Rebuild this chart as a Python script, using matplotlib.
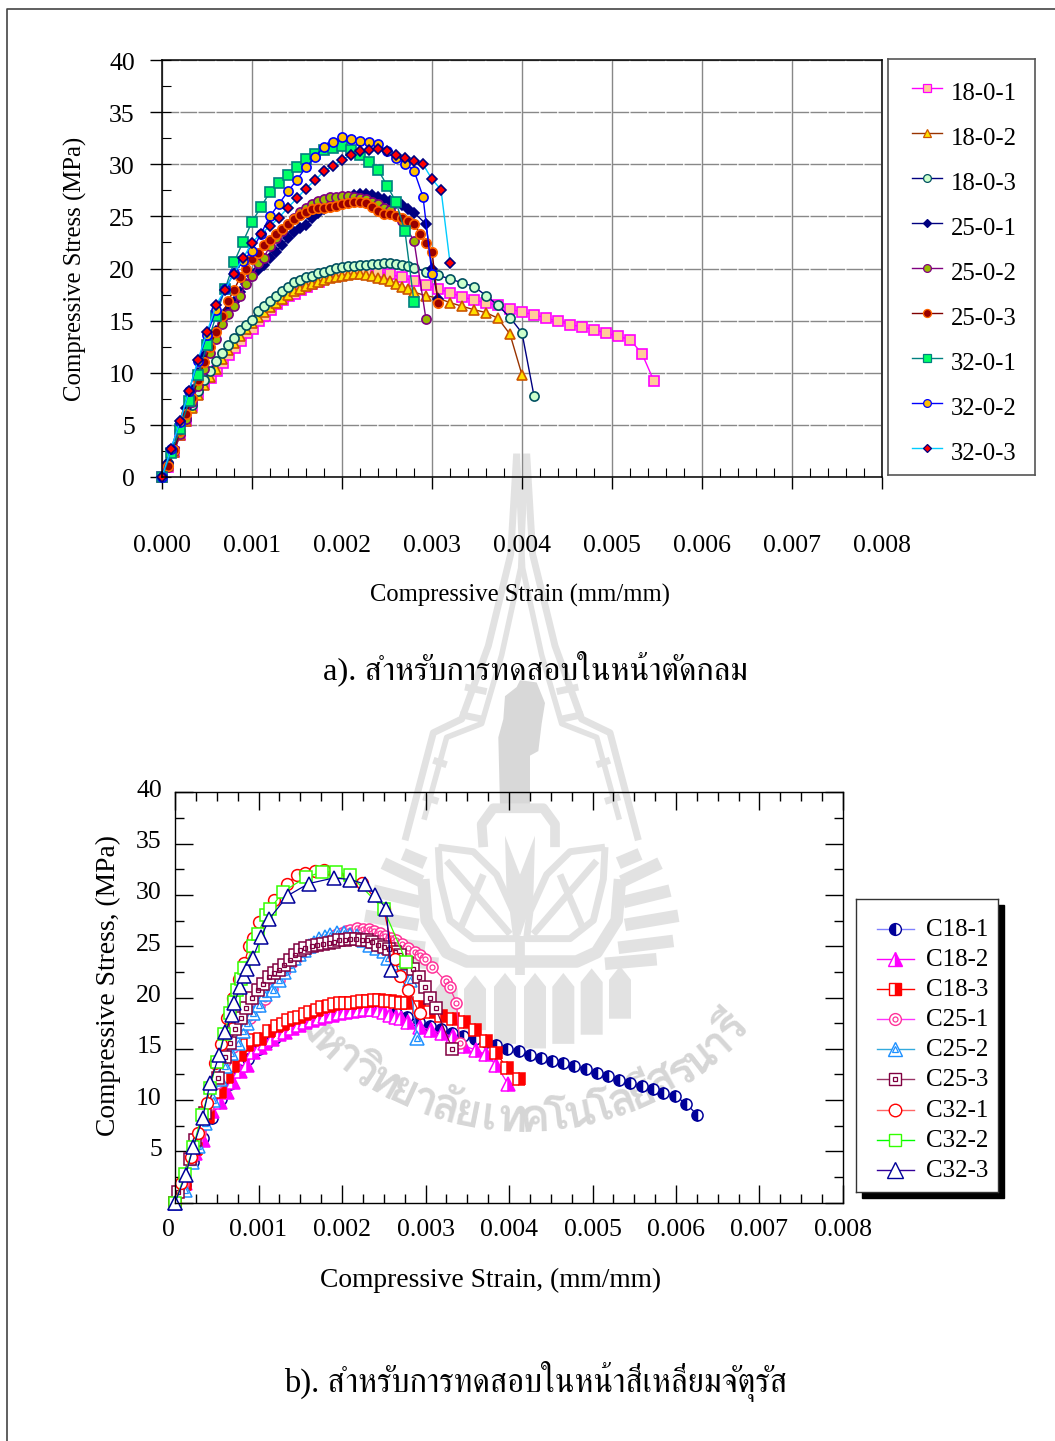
import numpy as np
import matplotlib
matplotlib.use("Agg")
import matplotlib.pyplot as plt
from matplotlib.patches import Polygon, Rectangle
from matplotlib.ticker import MultipleLocator, FixedLocator
from matplotlib.transforms import ScaledTranslation

plt.rcParams["font.family"] = ["Liberation Serif", "FreeSerif", "DejaVu Serif"]

W, H = 1055, 1441

# ---- chart a, strain in 1/1000 mm/mm, stress in MPa
e_18_0_1 = [0, 0.07, 0.13, 0.2, 0.27, 0.33, 0.4, 0.47, 0.54, 0.607, 0.674, 0.741, 0.807, 0.874, 0.94, 1.007, 1.074, 1.141, 1.207, 1.274, 1.34, 1.41, 1.474, 1.54, 1.607, 1.67, 1.74, 1.8, 1.87, 1.94, 2.0, 2.07, 2.13, 2.2, 2.27, 2.4, 2.533, 2.667, 2.8, 2.933, 3.067, 3.2, 3.333, 3.467, 3.6, 3.733, 3.867, 4.0, 4.133, 4.267, 4.4, 4.533, 4.667, 4.8, 4.933, 5.067, 5.2, 5.333, 5.467]
s_18_0_1 = [0, 1.0, 2.4, 4.0, 5.4, 6.8, 8.0, 8.9, 9.5, 10.13, 10.89, 11.66, 12.4, 13.07, 13.77, 14.19, 14.95, 15.46, 16.04, 16.58, 17.0, 17.4, 17.6, 17.9, 18.2, 18.5, 18.75, 19.0, 19.15, 19.3, 19.4, 19.5, 19.55, 19.6, 19.7, 19.71, 19.46, 19.14, 18.81, 18.39, 18.04, 17.69, 17.27, 16.99, 16.7, 16.47, 16.09, 15.83, 15.55, 15.26, 14.94, 14.62, 14.4, 14.14, 13.79, 13.5, 13.18, 11.84, 9.18]

e_18_0_2 = [0, 0.067, 0.133, 0.2, 0.267, 0.333, 0.4, 0.467, 0.533, 0.6, 0.667, 0.733, 0.8, 0.867, 0.933, 1.0, 1.067, 1.133, 1.2, 1.267, 1.333, 1.4, 1.467, 1.533, 1.6, 1.667, 1.733, 1.8, 1.867, 1.933, 2.0, 2.067, 2.133, 2.2, 2.267, 2.333, 2.4, 2.467, 2.533, 2.6, 2.667, 2.733, 2.8, 2.933, 3.067, 3.2, 3.333, 3.467, 3.6, 3.733, 3.867, 4.0]
s_18_0_2 = [0, 1.1, 2.4, 4.0, 5.4, 6.6, 7.9, 8.8, 9.6, 10.4, 11.3, 12.2, 12.9, 13.5, 14.2, 14.8, 15.3, 15.8, 16.3, 16.7, 17.1, 17.5, 17.83, 18.08, 18.34, 18.5, 18.72, 18.9, 19.07, 19.2, 19.3, 19.39, 19.46, 19.46, 19.36, 19.27, 19.1, 18.98, 18.79, 18.53, 18.27, 18.02, 17.72, 17.4, 17.15, 16.73, 16.38, 16.05, 15.77, 15.23, 13.69, 9.79]

e_18_0_3 = [0, 0.067, 0.133, 0.2, 0.267, 0.333, 0.404, 0.467, 0.533, 0.6, 0.667, 0.733, 0.8, 0.867, 0.933, 1.0, 1.067, 1.133, 1.2, 1.267, 1.333, 1.4, 1.467, 1.533, 1.6, 1.667, 1.733, 1.8, 1.867, 1.933, 2.0, 2.067, 2.133, 2.2, 2.267, 2.333, 2.4, 2.467, 2.533, 2.6, 2.667, 2.733, 2.8, 2.933, 3.067, 3.2, 3.333, 3.467, 3.6, 3.733, 3.867, 4.0, 4.133]
s_18_0_3 = [0, 1.3, 2.6, 4.2, 5.6, 6.9, 8.27, 9.3, 10.13, 11.12, 11.88, 12.65, 13.32, 14.12, 14.6, 15.08, 15.94, 16.36, 16.9, 17.38, 17.83, 18.27, 18.66, 18.91, 19.17, 19.3, 19.55, 19.71, 19.87, 20.03, 20.16, 20.22, 20.26, 20.32, 20.35, 20.42, 20.45, 20.48, 20.48, 20.45, 20.38, 20.26, 20.06, 19.71, 19.36, 19.0, 18.63, 18.27, 17.4, 16.47, 15.29, 13.82, 7.8]

e_25_0_1 = [0, 0.067, 0.133, 0.2, 0.267, 0.333, 0.4, 0.467, 0.533, 0.6, 0.667, 0.733, 0.8, 0.867, 0.933, 1.0, 1.067, 1.133, 1.2, 1.267, 1.333, 1.4, 1.467, 1.533, 1.6, 1.667, 1.733, 1.8, 1.867, 1.933, 2.0, 2.067, 2.133, 2.2, 2.267, 2.333, 2.4, 2.467, 2.533, 2.6, 2.667, 2.733, 2.8, 2.933, 3.0, 3.067]
s_25_0_1 = [0, 1.3, 2.8, 4.9, 6.6, 8.3, 10.0, 11.6, 12.9, 14.0, 15.1, 16.0, 16.8, 17.7, 18.5, 19.3, 19.87, 20.35, 20.99, 21.63, 22.24, 22.9, 23.51, 23.9, 24.22, 24.82, 25.37, 25.69, 26.17, 26.45, 26.71, 26.9, 27.06, 27.19, 27.16, 27.03, 26.9, 26.71, 26.52, 26.33, 26.1, 25.75, 25.37, 24.25, 20.0, 17.06]

e_25_0_2 = [0, 0.067, 0.133, 0.2, 0.267, 0.333, 0.4, 0.467, 0.533, 0.6, 0.667, 0.733, 0.8, 0.867, 0.933, 1.0, 1.067, 1.133, 1.2, 1.267, 1.333, 1.4, 1.467, 1.533, 1.6, 1.667, 1.733, 1.8, 1.867, 1.933, 2.0, 2.067, 2.133, 2.2, 2.267, 2.333, 2.4, 2.467, 2.533, 2.667, 2.8, 2.933]
s_25_0_2 = [0, 1.0, 2.5, 4.1, 5.6, 7.2, 8.75, 10.4, 11.9, 13.23, 14.66, 15.62, 16.42, 17.4, 18.47, 19.3, 20.48, 21.05, 22.2, 22.9, 23.61, 24.25, 24.89, 25.43, 25.85, 26.2, 26.45, 26.68, 26.84, 26.9, 26.93, 26.93, 26.9, 26.8, 26.65, 26.42, 26.17, 25.85, 25.62, 24.57, 22.65, 15.14]

e_25_0_3 = [0, 0.07, 0.133, 0.2, 0.267, 0.333, 0.4, 0.47, 0.533, 0.6, 0.667, 0.733, 0.8, 0.867, 0.933, 1.0, 1.067, 1.133, 1.2, 1.267, 1.333, 1.4, 1.467, 1.533, 1.6, 1.667, 1.733, 1.8, 1.867, 1.933, 2.0, 2.067, 2.133, 2.2, 2.267, 2.333, 2.4, 2.467, 2.533, 2.6, 2.667, 2.733, 2.8, 2.867, 2.933, 3.0, 3.067]
s_25_0_3 = [0, 1.09, 2.6, 4.4, 6.04, 7.6, 9.3, 11.0, 12.5, 13.93, 15.46, 16.9, 17.92, 19.14, 20.0, 20.89, 21.53, 22.24, 22.75, 23.35, 23.83, 24.31, 24.79, 25.11, 25.46, 25.69, 25.81, 25.85, 25.94, 26.04, 26.17, 26.29, 26.36, 26.36, 26.29, 25.91, 25.5, 25.27, 25.21, 25.05, 24.86, 24.57, 24.31, 23.29, 22.4, 21.63, 16.71]

e_32_0_1 = [0, 0.1, 0.2, 0.3, 0.4, 0.5, 0.6, 0.7, 0.8, 0.9, 1.0, 1.1, 1.2, 1.3, 1.4, 1.5, 1.6, 1.7, 1.8, 1.9, 2.0, 2.1, 2.2, 2.3, 2.4, 2.5, 2.6, 2.7, 2.8]
s_32_0_1 = [0, 2.3, 4.6, 7.25, 9.81, 12.65, 15.46, 18.02, 20.58, 22.56, 24.47, 25.91, 27.35, 28.18, 29.01, 29.78, 30.48, 31.02, 31.37, 31.6, 31.76, 31.34, 30.89, 30.26, 29.49, 27.96, 26.39, 23.55, 16.77]

e_32_0_2 = [0, 0.1, 0.2, 0.3, 0.4, 0.5, 0.6, 0.7, 0.8, 0.9, 1.0, 1.1, 1.2, 1.3, 1.4, 1.5, 1.6, 1.7, 1.8, 1.9, 2.0, 2.1, 2.2, 2.3, 2.4, 2.5, 2.6, 2.7, 2.8, 2.9, 3.0]
s_32_0_2 = [0, 2.68, 5.3, 8.27, 11.09, 13.64, 16.04, 18.02, 19.55, 20.73, 21.69, 23.35, 25.02, 26.2, 27.41, 28.5, 29.71, 30.7, 31.69, 32.14, 32.59, 32.43, 32.27, 32.14, 31.92, 31.28, 30.64, 30.06, 29.39, 26.9, 19.46]

e_32_0_3 = [0, 0.1, 0.2, 0.3, 0.4, 0.5, 0.6, 0.7, 0.8, 0.9, 1.0, 1.1, 1.2, 1.3, 1.4, 1.5, 1.6, 1.7, 1.8, 1.9, 2.0, 2.1, 2.2, 2.3, 2.4, 2.5, 2.6, 2.7, 2.8, 2.9, 3.0, 3.1, 3.2]
s_32_0_3 = [0, 2.68, 5.34, 8.27, 11.25, 13.87, 16.49, 17.96, 19.52, 20.96, 22.49, 23.35, 24.03, 24.89, 25.85, 26.74, 27.67, 28.47, 29.33, 29.84, 30.42, 30.89, 31.28, 31.37, 31.5, 31.25, 30.89, 30.64, 30.32, 30.0, 28.56, 27.57, 20.54]

# ---- chart b
e_c18_1 = [0, 0.12, 0.22, 0.33, 0.44, 0.55, 0.66, 0.77, 0.88, 1.0, 1.1, 1.2, 1.3, 1.4, 1.5, 1.6, 1.7, 1.8, 1.9, 2.0, 2.1, 2.2, 2.3, 2.4, 2.52, 2.65, 2.78, 2.92, 3.05, 3.18, 3.32, 3.45, 3.59, 3.72, 3.85, 3.98, 4.12, 4.25, 4.38, 4.52, 4.65, 4.78, 4.92, 5.05, 5.19, 5.32, 5.45, 5.59, 5.72, 5.85, 5.99, 6.12, 6.256]
s_c18_1 = [0, 1.7, 4.0, 6.3, 8.3, 10.1, 11.6, 12.9, 14.0, 15.0, 15.6, 16.1, 16.6, 17.0, 17.4, 17.8, 18.0, 18.2, 18.4, 18.5, 18.6, 18.7, 18.8, 18.8, 18.7, 18.5, 18.13, 17.64, 17.22, 16.9, 16.57, 16.24, 15.92, 15.69, 15.37, 14.98, 14.75, 14.39, 14.13, 13.78, 13.58, 13.35, 13.0, 12.67, 12.35, 11.99, 11.7, 11.34, 11.08, 10.72, 10.4, 9.65, 8.55]

e_c18_2 = [0, 0.12, 0.24, 0.34, 0.44, 0.54, 0.62, 0.7, 0.78, 0.86, 0.94, 1.02, 1.08, 1.16, 1.24, 1.32, 1.4, 1.48, 1.56, 1.64, 1.72, 1.8, 1.88, 1.96, 2.04, 2.12, 2.2, 2.28, 2.36, 2.44, 2.5, 2.57, 2.65, 2.71, 2.79, 2.94, 3.06, 3.2, 3.33, 3.46, 3.6, 3.72, 3.85, 3.99]
s_c18_2 = [0, 1.9, 4.8, 6.1, 8.9, 9.86, 10.8, 11.8, 12.8, 13.4, 14.7, 15.2, 15.6, 16.0, 16.4, 16.6, 17.0, 17.3, 17.65, 17.8, 18.0, 18.15, 18.3, 18.5, 18.6, 18.7, 18.8, 18.9, 18.9, 18.8, 18.6, 18.3, 18.1, 18.0, 17.6, 17.15, 16.8, 16.5, 16.2, 15.3, 14.88, 14.46, 13.4, 11.54]

e_c18_3 = [0, 0.12, 0.25, 0.4, 0.54, 0.62, 0.7, 0.78, 0.86, 0.94, 1.02, 1.13, 1.22, 1.29, 1.35, 1.42, 1.49, 1.56, 1.62, 1.7, 1.76, 1.84, 1.9, 1.98, 2.04, 2.11, 2.18, 2.24, 2.31, 2.38, 2.44, 2.51, 2.57, 2.64, 2.71, 2.78, 2.92, 3.05, 3.18, 3.33, 3.46, 3.59, 3.72, 3.85, 3.98, 4.12]
s_c18_3 = [0, 1.8, 5.2, 8.4, 10.8, 12.3, 13.3, 14.4, 15.4, 15.85, 16.0, 16.7, 17.2, 17.4, 17.8, 18.0, 18.1, 18.4, 18.6, 18.8, 19.1, 19.2, 19.35, 19.45, 19.5, 19.5, 19.6, 19.7, 19.7, 19.8, 19.75, 19.7, 19.7, 19.6, 19.5, 19.45, 19.1, 18.6, 18.15, 17.9, 17.6, 16.8, 15.75, 14.55, 13.1, 12.06]

e_c25_1 = [0, 0.1, 0.2, 0.3, 0.4, 0.5, 0.6, 0.7, 0.8, 0.9, 1.0, 1.08, 1.16, 1.24, 1.32, 1.4, 1.48, 1.56, 1.64, 1.72, 1.8, 1.88, 1.94, 2.0, 2.05, 2.1, 2.18, 2.25, 2.32, 2.38, 2.45, 2.51, 2.59, 2.65, 2.72, 2.79, 2.87, 2.93, 2.99, 3.08, 3.24, 3.29, 3.37, 3.41]
s_c25_1 = [0, 1.8, 4.4, 6.8, 9.4, 11.7, 13.8, 15.2, 16.6, 18.0, 19.2, 19.9, 20.8, 21.7, 22.7, 23.5, 24.0, 24.5, 24.9, 25.3, 25.7, 25.96, 26.15, 26.3, 26.45, 26.6, 26.74, 26.7, 26.7, 26.45, 26.3, 26.0, 25.8, 25.57, 25.25, 24.8, 24.4, 24.1, 23.75, 23.0, 21.6, 21.0, 19.5, 15.6]

e_c25_2 = [0, 0.12, 0.2, 0.28, 0.36, 0.45, 0.54, 0.6, 0.67, 0.75, 0.81, 0.86, 0.93, 1.0, 1.08, 1.17, 1.24, 1.3, 1.36, 1.42, 1.48, 1.54, 1.6, 1.66, 1.72, 1.8, 1.86, 1.94, 2.02, 2.1, 2.18, 2.26, 2.34, 2.42, 2.5, 2.55, 2.68, 2.81, 2.9]
s_c25_2 = [0, 1.2, 4.0, 5.5, 7.8, 10.0, 12.1, 13.3, 14.6, 15.55, 16.7, 17.5, 18.5, 19.3, 20.3, 20.75, 21.7, 22.5, 23.2, 23.85, 24.2, 24.6, 25.0, 25.3, 25.7, 25.9, 26.1, 26.3, 26.3, 26.1, 25.96, 25.6, 25.1, 24.8, 24.5, 23.85, 23.4, 21.7, 16.1]

e_c25_3 = [0, 0.04, 0.18, 0.24, 0.36, 0.51, 0.6, 0.66, 0.72, 0.79, 0.85, 0.92, 0.99, 1.05, 1.12, 1.18, 1.25, 1.31, 1.38, 1.44, 1.5, 1.56, 1.64, 1.7, 1.77, 1.84, 1.9, 1.97, 2.04, 2.1, 2.17, 2.24, 2.3, 2.36, 2.43, 2.5, 2.56, 2.63, 2.7, 2.78, 2.85, 2.92, 2.99, 3.05, 3.12, 3.32]
s_c25_3 = [0, 1.07, 4.3, 6.1, 8.7, 12.2, 14.2, 15.6, 16.9, 18.0, 19.0, 20.0, 20.75, 21.3, 22.0, 22.4, 22.7, 23.2, 23.7, 24.1, 24.6, 24.8, 25.0, 25.1, 25.2, 25.3, 25.45, 25.6, 25.6, 25.7, 25.7, 25.6, 25.6, 25.4, 25.1, 24.9, 24.7, 24.4, 24.1, 23.4, 22.8, 22.0, 21.0, 20.0, 19.0, 15.0]

e_c32_1 = [0, 0.07, 0.19, 0.28, 0.38, 0.48, 0.55, 0.62, 0.7, 0.77, 0.83, 0.89, 0.94, 1.0, 1.18, 1.34, 1.46, 1.56, 1.68, 1.79, 1.92, 2.08, 2.24, 2.5, 2.63, 2.69, 2.79, 2.93]
s_c32_1 = [0, 1.9, 4.5, 6.8, 9.7, 13.6, 15.5, 18.0, 20.0, 21.8, 23.4, 25.0, 25.8, 27.4, 29.5, 31.07, 31.9, 32.1, 32.3, 32.4, 32.1, 31.8, 31.2, 28.6, 23.8, 22.1, 20.75, 18.46]

e_c32_2 = [0, 0.12, 0.22, 0.32, 0.42, 0.5, 0.59, 0.66, 0.71, 0.74, 0.79, 0.83, 0.94, 0.99, 1.09, 1.14, 1.29, 1.565, 1.76, 1.93, 2.1, 2.5, 2.77]
s_c32_2 = [0, 2.8, 5.47, 8.5, 11.2, 13.76, 16.4, 18.5, 19.6, 20.75, 21.8, 22.9, 25.0, 26.2, 28.0, 28.6, 30.3, 31.7, 32.24, 32.27, 31.9, 28.6, 23.5]

e_c32_3 = [0, 0.128, 0.22, 0.33, 0.42, 0.53, 0.6, 0.68, 0.71, 0.78, 0.83, 0.86, 0.93, 1.03, 1.13, 1.35, 1.6, 1.9, 2.1, 2.28, 2.4, 2.53, 2.59]
s_c32_3 = [0, 2.7, 5.47, 8.23, 11.65, 14.41, 16.59, 18.25, 19.5, 21.0, 22.1, 22.8, 23.85, 25.86, 27.68, 29.93, 31.1, 31.65, 31.5, 31.03, 30.03, 28.63, 22.64]

labels_a = ["18-0-1", "18-0-2", "18-0-3", "25-0-1", "25-0-2", "25-0-3", "32-0-1", "32-0-2", "32-0-3"]
labels_b = ["C18-1", "C18-2", "C18-3", "C25-1", "C25-2", "C25-3", "C32-1", "C32-2", "C32-3"]
x_ticks = [0, 1, 2, 3, 4, 5, 6, 7, 8]
y_ticks = [0, 5, 10, 15, 20, 25, 30, 35, 40]

title_a = "a). สำหรับการทดสอบในหน้าตัดกลม"
title_b = "b). สำหรับการทดสอบในหน้าสี่เหลี่ยมจัตุรัส"
arc_text = ["ม", "ห", "า", "วิ", "ท", "ย", "า", "ลั", "ย", "เ", "ท", "ค", "โ", "น", "โ", "ล", "ยี", "สุ", "ร", "น", "า", "รี"]

data_a = [(e_18_0_1, s_18_0_1), (e_18_0_2, s_18_0_2), (e_18_0_3, s_18_0_3),
          (e_25_0_1, s_25_0_1), (e_25_0_2, s_25_0_2), (e_25_0_3, s_25_0_3),
          (e_32_0_1, s_32_0_1), (e_32_0_2, s_32_0_2), (e_32_0_3, s_32_0_3)]
data_b = [(e_c18_1, s_c18_1), (e_c18_2, s_c18_2), (e_c18_3, s_c18_3),
          (e_c25_1, s_c25_1), (e_c25_2, s_c25_2), (e_c25_3, s_c25_3),
          (e_c32_1, s_c32_1), (e_c32_2, s_c32_2), (e_c32_3, s_c32_3)]

# line colour, marker, edge, face
style_a = [("#FF00FF", "s", "#FF00FF", "#FFCC99"),
           ("#993300", "^", "#CC5500", "#FFE000"),
           ("#000080", "o", "#005060", "#CCFFCC"),
           ("#000080", "D", "#000080", "#000080"),
           ("#800080", "o", "#800080", "#99BB00"),
           ("#800000", "o", "#FF6600", "#990000"),
           ("#008080", "s", "#008080", "#00FF66"),
           ("#0000FF", "o", "#0000FF", "#FFC000"),
           ("#00CCFF", "D", "#000080", "#FF0000")]
size_a = [6.6, 6.8, 6.6, 4.8, 6.6, 6.8, 6.6, 6.6, 5.0]

# line colour, marker, edge, face, fill side, inner marker size
style_b = [("#000099", "o", "#000099", "#000099", "left", 0),
           ("#FF00FF", "^", "#FF00FF", "#FF00FF", "right", 0),
           ("#FF0000", "s", "#FF0000", "#FF0000", "right", 0),
           ("#FF3399", "o", "#FF3399", "white", "full", 3.6),
           ("#3399FF", "^", "#1E90FF", "white", "full", 4.6),
           ("#800040", "s", "#800040", "white", "full", 3.4),
           ("#FF0000", "o", "#FF0000", "white", "full", 0),
           ("#33FF00", "s", "#33FF00", "white", "full", 0),
           ("#000099", "^", "#000099", "white", "full", 0)]
size_b = [8.0, 9.5, 8.0, 8.0, 9.5, 8.0, 8.5, 8.0, 10.5]
leg_line_b = ["#8080FF", "#FF00FF", "#FF0000", "#FF33FF", "#33AADD", "#993366", "#FF6666", "#00FF00", "#330099"]


def px_axes(left, top, right, bottom, **kw):
    return fig.add_axes([left / W, 1 - bottom / H, (right - left) / W, (bottom - top) / H], **kw)


def px_text(x, y, s, **kw):
    fig.text(x / W, 1 - y / H, s, **kw)


def draw_series(ax, e, s, st, ms, mew):
    ax.plot(np.array(e) / 1000, s, color=st[0], lw=1.0, marker=st[1], ms=ms, mec=st[2], mfc=st[3],
            mew=mew, clip_on=False)


def draw_series_b(ax, e, s, st, ms):
    ax.plot(np.array(e) / 1000, s, color=st[0], lw=0.9, marker=st[1], ms=ms, mec=st[2], mfc=st[3],
            mew=1.1, fillstyle=st[4], markerfacecoloralt="white", clip_on=False)
    if st[5]:
        ax.plot(np.array(e) / 1000, s, ls="none", marker=st[1], ms=st[5], mec=st[2], mfc="none",
                mew=0.9, clip_on=False)


fig = plt.figure(figsize=(W / 100, H / 100), dpi=100)

# ---- page frame and watermark, everything behind the charts
bg = fig.add_axes([0, 0, 1, 1], zorder=-1)
bg.set_xlim(0, W)
bg.set_ylim(H, 0)
bg.axis("off")
bg.plot([7, 7, W], [H, 9, 9], color="#444444", lw=1.2)

WM = "#E2E2E2"


def wz(pts):
    return [(350 + a / 3, 440 + b / 2.186) for a, b in pts]


def wline(pts, lw, mirror=True):
    q = wz(pts)
    bg.plot([a for a, b in q], [b for a, b in q], color=WM, lw=lw, solid_capstyle="butt", solid_joinstyle="round")
    if mirror:
        q = wz([(1030 - a, b) for a, b in pts])
        bg.plot([a for a, b in q], [b for a, b in q], color=WM, lw=lw, solid_capstyle="butt", solid_joinstyle="round")


# tower
wline([(500, 30), (482, 250), (415, 450), (335, 610), (250, 640), (165, 875)], 5)
wline([(528, 30), (512, 280), (455, 470), (395, 620), (290, 650), (222, 830)], 4)
for rung in [[(345, 540), (410, 550)], [(330, 600), (395, 610)], [(250, 700), (290, 710)], [(220, 780), (265, 790)]]:
    wline(rung, 5)
# statue
bg.add_patch(Polygon(wz([(500, 540), (510, 525), (560, 530), (585, 575), (575, 620), (565, 680), (540, 690), (540, 800),
                         (450, 800), (445, 650), (460, 610), (465, 560)]), color="#D8D8D8", lw=0))
wline([(400, 890), (395, 840), (430, 805), (580, 805), (615, 840), (615, 890)], 7, mirror=False)
# leaves
wline([(220, 960), (230, 1050), (290, 1120), (350, 1140), (510, 1140)], 9)
wline([(265, 890), (270, 960), (300, 1050), (370, 1090), (500, 1090), (490, 1030), (440, 950), (370, 900), (265, 890)], 5)
wline([(290, 920), (480, 1080)], 5)
wline([(330, 1070), (400, 950)], 5)
bg.add_patch(Polygon(wz([(465, 865), (510, 950), (555, 865), (550, 1000), (510, 1085), (470, 1000)]), color=WM, lw=0))
wline([(510, 1085), (510, 1170)], 7, mirror=False)
# rays
for ray in [[(100, 925), (215, 965)], [(70, 985), (210, 1010)], [(45, 1040), (205, 1060)], [(60, 1095), (225, 1110)],
            [(110, 1135), (265, 1145)], [(160, 905), (225, 925)]]:
    wline(ray, 9)
# pickets
for cx, top, bot in [(290, 1170, 1260), (375, 1170, 1290), (465, 1165, 1320), (555, 1165, 1330), (640, 1165, 1320),
                     (725, 1155, 1300), (810, 1150, 1265)]:
    bg.add_patch(Polygon(wz([(cx - 33, top + 30), (cx, top), (cx + 33, top + 30), (cx + 33, bot), (cx - 33, bot)]), color=WM, lw=0))
# name on the arc
for i, ch in enumerate(arc_text):
    ang = np.radians(137 - i * 94 / (len(arc_text) - 1))
    xc = 523 + 288 * np.cos(ang)
    yc = 832 + 288 * np.sin(ang)
    bg.text(xc, yc, ch, color="#D6D6D6", fontsize=33, ha="center", va="center", family="Loma",
            rotation=90 - np.degrees(ang), rotation_mode="anchor", fontweight="bold")

# ---- chart a
ax = px_axes(162, 60, 882, 477)
ax.patch.set_alpha(0)
ax.set_xlim(0, 0.008)
ax.set_ylim(0, 40)
ax.set_axisbelow(True)
ax.grid(True, which="major", axis="x", color="#888888", lw=1.0)
ax.grid(True, which="major", axis="y", color="#888888", lw=1.0, ls=(0, (12, 0.96)))
for i, (e, s) in enumerate(data_a):
    draw_series(ax, e, s, style_a[i], size_a[i], 1.2)
ax.xaxis.set_major_locator(FixedLocator([t / 1000 for t in x_ticks]))
ax.yaxis.set_major_locator(FixedLocator(y_ticks))
ax.xaxis.set_minor_locator(MultipleLocator(0.0002))
ax.yaxis.set_minor_locator(MultipleLocator(2.5))
ax.yaxis.remove_overlapping_locs = False
ax.set_xticklabels([f"{t / 1000:.3f}" for t in x_ticks])
ax.tick_params(axis="x", which="major", direction="out", length=8.6, width=1, pad=33, labelsize=18.5)
ax.tick_params(axis="y", which="major", direction="out", length=8.6, width=1, pad=11, labelsize=18.5)
ax.tick_params(which="minor", direction="in", length=6.2, width=0.8)
for t in ax.get_yticklabels():
    t.set_transform(t.get_transform() + ScaledTranslation(0, -1 / 100, fig.dpi_scale_trans))
for sp in ax.spines.values():
    sp.set_linewidth(1.1)
px_text(520, 595, "Compressive Strain (mm/mm)", fontsize=17.7, ha="center", va="center")
px_text(75, 269, "Compressive Stress (MPa)", fontsize=17.8, ha="center", va="center", rotation=90)
px_text(535.5, 668, title_a, fontsize=23.4, ha="center", va="center")

# legend a, drawn in its own box
la = px_axes(888, 59, 1035, 475)
la.set_xlim(888, 1035)
la.set_ylim(475, 59)
la.set_xticks([])
la.set_yticks([])
for sp in la.spines.values():
    sp.set_color("#555555")
    sp.set_linewidth(1.2)
leg_y = [88, 133, 178, 223, 268, 313, 358, 403, 448]
for i, lab in enumerate(labels_a):
    st = style_a[i]
    la.plot([912, 942], [leg_y[i]] * 2, color=st[0], lw=1.0)
    la.plot([927], [leg_y[i]], marker=st[1], ms=size_a[i] - 1.0, mec=st[2], mfc=st[3], mew=0.9)
    la.text(951, leg_y[i] + 6, lab, fontsize=17.8, va="center")

# ---- chart b
ax2 = px_axes(175, 792.3, 843, 1202.7)
ax2.patch.set_alpha(0)
ax2.set_xlim(0, 0.008)
ax2.set_ylim(0, 40)
for i, (e, s) in enumerate(data_b):
    draw_series_b(ax2, e, s, style_b[i], size_b[i])
ax2.xaxis.set_major_locator(FixedLocator([t / 1000 for t in x_ticks]))
ax2.xaxis.set_minor_locator(MultipleLocator(0.00025))
ax2.yaxis.set_major_locator(FixedLocator(y_ticks))
ax2.yaxis.set_minor_locator(MultipleLocator(2.5))
ax2.set_xticklabels(["0"] + [f"{t / 1000:.3f}" for t in x_ticks[1:]])
ax2.set_yticklabels([""] + [str(t) for t in y_ticks[1:]])
ax2.tick_params(which="major", direction="in", length=13, width=1, top=True, right=True, labelsize=18.5)
ax2.tick_params(which="minor", direction="in", length=6.8, width=1, top=True, right=True)
ax2.tick_params(axis="x", which="major", pad=12)
ax2.tick_params(axis="y", which="major", pad=9.5)
up = ScaledTranslation(0, 4 / 100, fig.dpi_scale_trans)
for t in ax2.get_yticklabels():
    t.set_transform(t.get_transform() + up)
lab0 = ax2.get_xticklabels()[0]
lab0.set_transform(lab0.get_transform() + ScaledTranslation(-0.07, 0, fig.dpi_scale_trans))
for sp in ax2.spines.values():
    sp.set_linewidth(1.0)
px_text(491, 1280, "Compressive Strain, (mm/mm)", fontsize=19.8, ha="center", va="center")
px_text(108, 986, "Compressive Stress, (MPa)", fontsize=19.8, ha="center", va="center", rotation=90)
px_text(536, 1382, title_b, fontsize=23.5, ha="center", va="center")

# legend b with its black shadow
fig.add_artist(Rectangle((862 / W, 1 - 1198 / H), 142 / W, 293 / H, transform=fig.transFigure, color="black", zorder=3))
lb = px_axes(856, 899, 998, 1192, zorder=4)
lb.set_xlim(856, 998)
lb.set_ylim(1192, 899)
lb.set_xticks([])
lb.set_yticks([])
for sp in lb.spines.values():
    sp.set_color("#333333")
    sp.set_linewidth(1.0)
leg_y2 = [929, 959.3, 989.3, 1019.3, 1049.3, 1079.3, 1109.7, 1140, 1170]
for i, lab in enumerate(labels_b):
    st = style_b[i]
    lb.plot([877, 914], [leg_y2[i]] * 2, color=leg_line_b[i], lw=1.0)
    lb.plot([895], [leg_y2[i]], marker=st[1], ms=size_b[i] + 0.5, mec=st[2], mfc=st[3], mew=1.0,
            fillstyle=st[4], markerfacecoloralt="white")
    if st[5]:
        lb.plot([895], [leg_y2[i]], marker=st[1], ms=st[5], mec=st[2], mfc="none", mew=0.9)
    lb.text(925.7, leg_y2[i] + 1, lab, fontsize=18, va="center")

fig.savefig("out.png", dpi=100)
